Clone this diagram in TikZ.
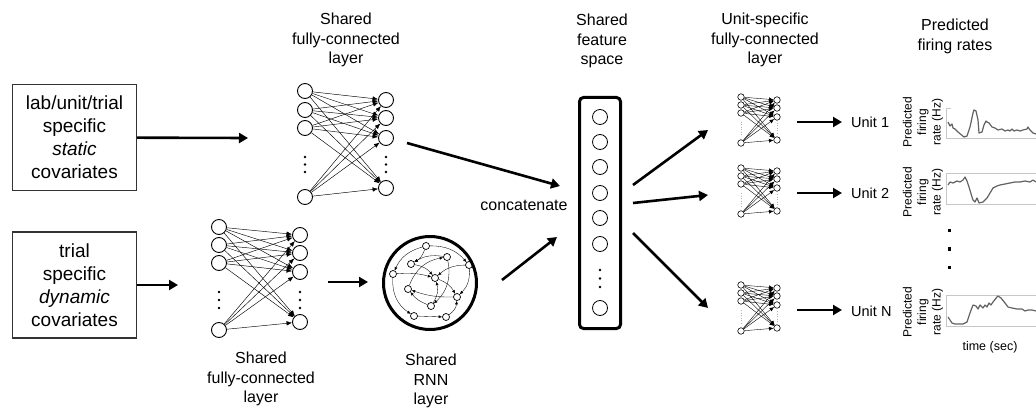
\documentclass[tikz,border=0pt]{standalone}
\usepackage{fontspec}
\setmainfont{Liberation Sans}
\usetikzlibrary{arrows.meta,calc}

\begin{document}
\begin{tikzpicture}[x=1pt,y=-1pt,
    inbox/.style={draw=black!80, line width=1.2pt, minimum width=124pt, minimum height=106pt, align=center, font=\fontsize{19}{23}\selectfont},
    caption/.style={align=center, inner sep=0pt, font=\fontsize{16}{19.5}\selectfont},
    unitlbl/.style={anchor=west, inner sep=0pt, font=\fontsize{14.5}{17}\selectfont},
    ylbl/.style={rotate=90, align=center, inner sep=0pt, font=\fontsize{12}{14.5}\selectfont},
    neuron/.style={circle, draw, line width=0.9pt, minimum size=15pt, inner sep=0pt},
    cell/.style={circle, draw, line width=0.7pt, minimum size=7pt, inner sep=0pt},
    link/.style={line width=0.45pt, -{Latex[length=5.5pt,width=4.5pt]}},
    thinlink/.style={line width=0.35pt, -{Latex[length=3.5pt,width=3pt]}},
    unitlink/.style={line width=0.4pt, -{Latex[length=4.5pt,width=4pt]}},
    bigarrow/.style={line width=2.6pt, -{Triangle[length=9pt,width=10pt]}},
    trace/.style={draw=black!62, line width=1.2pt, line join=round},
    axis/.style={draw=black!22, line width=0.6pt}]

  \useasboundingbox (0,0) rectangle (1036,409);

  % inputs
  \node[inbox] (static) at (74.5,137.5) {lab/unit/trial\\specific\\\textit{static}\\covariates};
  \node[inbox] (dynamic) at (74.5,285) {trial\\specific\\\textit{dynamic}\\covariates};
  \coordinate (topin) at (248,138);
  \coordinate (botin) at (178,285);
  \draw[bigarrow] (static) -- (topin);
  \draw[bigarrow] (dynamic) -- (botin);

  % shared fully-connected layer (static)
  \foreach \n/\y in {1/91,2/110,3/128,4/197}
    \node[neuron] (ta\n) at (305,\y) {};
  \foreach \n/\y in {1/100,2/118,3/138,4/188}
    \node[neuron] (tb\n) at (386,\y) {};
  \foreach \i in {1,...,4}
    \foreach \j in {1,...,4}
      \draw[link] (ta\i) -- (tb\j);
  \foreach \y in {157,164.5,172} {
    \fill (305,\y) circle (1.4);
    \fill (386,\y) circle (1.4);
  }
  \node[caption] (toplbl) at (346,40) {Shared\\fully-connected\\layer};

  % shared fully-connected layer (dynamic)
  \foreach \n/\y in {1/227,2/245,3/263,4/330}
    \node[neuron] (ba\n) at (219,\y) {};
  \foreach \n/\y in {1/235,2/253,3/272,4/322}
    \node[neuron] (bb\n) at (300,\y) {};
  \foreach \i in {1,...,4}
    \foreach \j in {1,...,4}
      \draw[link] (ba\i) -- (bb\j);
  \foreach \y in {292,300,308} {
    \fill (219,\y) circle (1.4);
    \fill (300,\y) circle (1.4);
  }
  \node[caption] (botlbl) at (261,379) {Shared\\fully-connected\\layer};

  % RNN layer
  \node[circle, draw, line width=3pt, minimum size=93pt, inner sep=0pt] (rnn) at (430,283) {};
  \node[cell] (r1) at (426,246) {};
  \node[cell] (r2) at (411,264) {};
  \node[cell] (r3) at (447,257) {};
  \node[cell] (r4) at (469,265) {};
  \node[cell] (r5) at (393,274) {};
  \node[cell] (r6) at (435,278) {};
  \node[cell] (r7) at (408,289) {};
  \node[cell] (r8) at (457,297) {};
  \node[cell] (r9) at (431,306) {};
  \node[cell] (r10) at (414,316) {};
  \node[cell] (r11) at (446,317) {};
  \draw[thinlink] (r1) to[bend right=25] (r5);
  \draw[thinlink] (r1) to[bend left=25] (r4);
  \draw[thinlink] (r1) to[bend left=20] (r2);
  \draw[thinlink] (r2) to[bend left=20] (r6);
  \draw[thinlink] (r3) to[bend right=20] (r2);
  \draw[thinlink] (r5) to[bend left=10] (r6);
  \draw[thinlink] (r5) to[bend right=30] (r10);
  \draw[thinlink] (r10) -- (r11);
  \draw[thinlink] (r7) to[bend left=30] (r3);
  \draw[thinlink] (r6) to[bend left=20] (r8);
  \draw[thinlink] (r8) to[bend left=10] (r7);
  \draw[thinlink] (r9) to[bend right=25] (r6);
  \draw[thinlink] (r4) to[bend left=25] (r8);
  \draw[thinlink] (r3) to[bend left=30] (r9);
  \draw[thinlink] (r11) to[bend right=25] (r8);
  \draw[thinlink] (r9) to[bend left=15] (r7);
  \draw[thinlink] (r4) to[bend right=20] (r6);
  \coordinate (fcout) at (328,282);
  \coordinate (rnnin) at (368,282);
  \draw[bigarrow] (fcout) -- (rnnin);
  \node[caption] (rnnlbl) at (431,381) {Shared\\RNN\\layer};

  % shared feature space
  \node[draw, line width=3pt, rounded corners=4pt, minimum width=41pt, minimum height=231pt, inner sep=0pt] (feat) at (600,213) {};
  \foreach \n/\y in {1/117,2/142,3/167,4/193,5/218,6/244,7/308}
    \node[neuron, line width=0.8pt] (f\n) at (600,\y) {};
  \foreach \y in {270,278.5,287}
    \fill (600,\y) circle (1.4);
  \node[caption] (featlbl) at (602,41) {Shared\\feature\\space};

  \coordinate (topout) at (407,143);
  \coordinate (featin1) at (560,186);
  \coordinate (rnnout) at (502,280);
  \coordinate (featin2) at (557,237);
  \draw[bigarrow] (topout) -- (featin1);
  \draw[bigarrow] (rnnout) -- (featin2);
  \node[caption] (concat) at (524,205) {concatenate};

  % unit-specific fully-connected layers
  \foreach \k/\b/\fy/\uy in {1/97/185/130,2/168/203/195,3/285/233/308} {
    \foreach \i/\d in {1/0,2/8,3/16,4/46}
      \node[cell, line width=0.6pt, minimum size=6.5pt] (s\k-a\i) at (741,\b+\d) {};
    \foreach \j/\d in {1/3,2/11,3/20,4/43}
      \node[cell, line width=0.6pt, minimum size=6.5pt] (s\k-b\j) at (777,\b+\d) {};
    \foreach \i in {1,...,4}
      \foreach \j in {1,...,4}
        \draw[unitlink] (s\k-a\i) -- (s\k-b\j);
    \draw[black!30, dotted, line width=0.5pt] (741,\b+25) -- (741,\b+39);
    \draw[black!30, dotted, line width=0.5pt] (777,\b+26) -- (777,\b+37);
    \coordinate (fo\k) at (633,\fy);
    \coordinate (si\k) at (708,\uy);
    \draw[bigarrow] (fo\k) -- (si\k);
    \coordinate (so\k) at (797,\b+25);
  }
  \node[caption] (unitlbl) at (765,40) {Unit-specific\\fully-connected\\layer};

  \node[unitlbl] (unit1) at (851,122) {Unit 1};
  \node[unitlbl] (unit2) at (851,193) {Unit 2};
  \node[unitlbl] (unitN) at (851,311) {Unit N};
  \draw[bigarrow, shorten >=9pt] (so1) -- (so1 -| unit1.west);
  \draw[bigarrow, shorten >=9pt] (so2) -- (so2 -| unit2.west);
  \draw[bigarrow, shorten >=9pt] (so3) -- (so3 -| unitN.west);

  % predicted firing rates
  \node[caption] (ratelbl) at (955,36.5) {Predicted\\firing rates};
  \node[ylbl] (ylab1) at (923,122) {Predicted\\firing\\rate (Hz)};
  \node[ylbl] (ylab2) at (923,192) {Predicted\\firing\\rate (Hz)};
  \node[ylbl] (ylabN) at (923,312) {Predicted\\firing\\rate (Hz)};

  \draw[axis] (951,108) -- (946,108) -- (946,138) -- (1036,138);
  \draw[axis] (1036,173) -- (946,173) -- (946,204) -- (1036,204);
  \draw[axis] (1036,295) -- (946,295) -- (946,326) -- (1036,326);

  \draw[trace] plot coordinates {(948,122) (950,126) (952,124) (953,128) (955,129)
    (958,132) (964,137) (967,136) (970,127) (973,113) (974,110) (976,111) (978,120)
    (979,133) (982,132) (984,125) (986,121) (987,122) (989,123) (992,127) (995,128)
    (998,130) (1002,129) (1005,131) (1008,130) (1010,131) (1012,129) (1014,131)
    (1017,130) (1020,131) (1023,130) (1027,129) (1028,127) (1030,130) (1033,133) (1036,134)};
  \draw[trace] plot coordinates {(948,185) (950,182) (953,183) (957,181) (960,182)
    (963,180) (965,177) (967,181) (969,187) (972,197) (973,200) (975,202) (977,198)
    (979,203) (983,202) (987,198) (990,193) (993,188) (997,186) (1000,185) (1005,184)
    (1010,183) (1015,182) (1020,182) (1025,181) (1030,182) (1033,180) (1036,182)};
  \draw[trace] plot coordinates {(948,317) (950,320) (952,323) (955,324) (963,324)
    (967,322) (970,313) (973,305) (976,306) (978,309) (980,305) (983,308) (985,305)
    (987,307) (989,303) (991,305) (993,302) (997,297) (998,296) (1001,298) (1005,303)
    (1008,307) (1012,308) (1017,309) (1022,309) (1025,311) (1028,310) (1032,310) (1036,311)};

  \foreach \y in {228.5,247,265.5}
    \fill (947.5,\y) rectangle +(3.5,3.5);
  \node[font=\fontsize{12.5}{15}\selectfont, inner sep=0pt] (timelbl) at (990,347) {time (sec)};
\end{tikzpicture}
\end{document}
